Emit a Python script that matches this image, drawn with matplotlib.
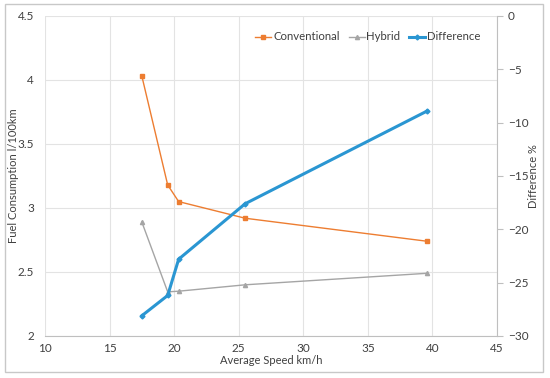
import matplotlib
matplotlib.use("Agg")
import matplotlib.pyplot as plt
from matplotlib.patches import Rectangle

speed = [17.5, 19.5, 20.35, 25.5, 39.6]
conventional = [4.03, 3.18, 3.05, 2.92, 2.74]
hybrid = [2.89, 2.345, 2.35, 2.40, 2.49]
difference = [-28.1, -26.2, -22.8, -17.6, -8.9]

plt.rcParams['font.family'] = ['Lato', 'DejaVu Sans']
fig = plt.figure(figsize=(5.5, 3.78), dpi=100)
W, H = 550, 378
ax = fig.add_axes([45 / W, 1 - 336 / H, (497 - 45) / W, (336 - 16) / H])
ax2 = ax.twinx()

c_conv = '#ED7D31'
c_hyb = '#A5A5A5'
c_diff = '#2A96D2'

l1, = ax.plot(speed, conventional, color=c_conv, lw=1.0, marker='s', ms=3, label='Conventional')
l2, = ax.plot(speed, hybrid, color=c_hyb, lw=1.0, marker='^', ms=3, label='Hybrid')
l3, = ax2.plot(speed, difference, color=c_diff, lw=2.2, marker='D', ms=2.5, label='Difference')

ax.set_xlim(10, 45)
ax.set_ylim(2, 4.5)
ax2.set_ylim(-30, 0)
ax.set_xticks(range(10, 46, 5))
ax.set_yticks([2, 2.5, 3, 3.5, 4, 4.5])
ax.set_yticklabels(['2', '2.5', '3', '3.5', '4', '4.5'])
ax2.set_yticks(range(-30, 1, 5))

ax.grid(True, color='#E3E3E3', lw=0.8)
ax.set_axisbelow(True)
for a in (ax, ax2):
    for s in a.spines.values():
        s.set_visible(False)
ax.spines['bottom'].set_visible(True)
ax.spines['bottom'].set_color('#BFBFBF')
ax2.spines['right'].set_visible(True)
ax2.spines['right'].set_color('#BFBFBF')

ax.tick_params(axis='both', length=0, labelsize=8.5, colors='#404040', pad=5)
ax.tick_params(axis='y', pad=8)
ax2.tick_params(axis='y', length=4, color='#BFBFBF', labelsize=8.5, labelcolor='#404040', pad=4)

ax.set_xlabel('Average Speed km/h', fontsize=8, color='#404040', labelpad=1)
ax.set_ylabel('Fuel Consumption l/100km', fontsize=8, color='#404040')
ax.yaxis.set_label_coords((19 - 45) / (497 - 45), 0.5)
ax2.set_ylabel('Difference %', fontsize=8, color='#404040')
ax2.yaxis.set_label_coords((528 - 45) / (497 - 45), 0.5)

leg = fig.legend(handles=[l1, l2, l3], loc='center', bbox_to_anchor=(368 / W, 1 - 37 / H),
                 ncol=3, frameon=False, fontsize=8.2, handlelength=1.4, handletextpad=0.15,
                 columnspacing=0.8, labelcolor='#404040')

fig.patches.append(Rectangle((5 / W, 1 - 372 / H), 538 / W, 368 / H, transform=fig.transFigure,
                             fill=False, edgecolor='#C8C8C8', lw=1.0))

fig.savefig('out.png', dpi=100)
